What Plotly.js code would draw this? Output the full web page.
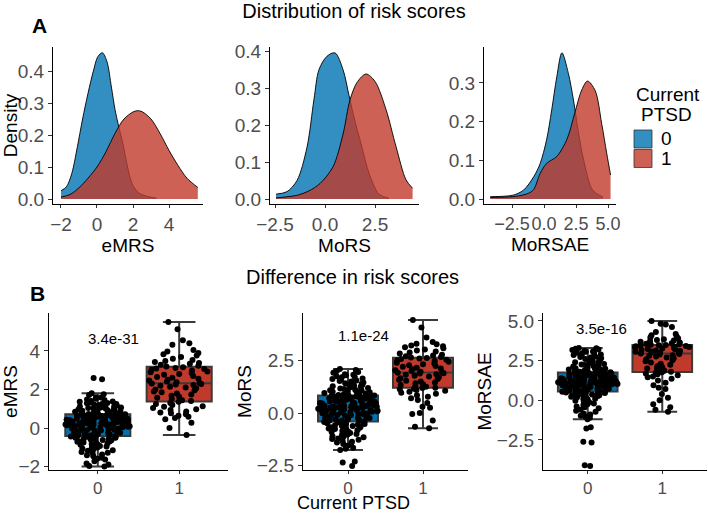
<!DOCTYPE html>
<html>
<head>
<meta charset="utf-8">
<script src="https://cdn.plot.ly/plotly-3.0.1.min.js"></script>
<style>html,body{margin:0;padding:0;background:#fff;}#chart{width:708px;height:513px;}</style>
</head>
<body>
<div id="chart"></div>
<script>
// ---------- data ----------
const scoreNames = ['eMRS', 'MoRS', 'MoRSAE'];
const groupLabels = ['0', '1'];
const pValues = ['3.4e-31', '1.1e-24', '3.5e-16'];

// density curves
const emrsDensX0 = [-2, -1.7, -1.4, -1.1, -0.8, -0.5, -0.2, 0.05, 0.3, 0.55, 0.8, 1.0, 1.2, 1.45, 1.7, 1.95, 2.3, 2.8, 3.3];
const emrsDensY0 = [0.026, 0.038, 0.08, 0.16, 0.25, 0.33, 0.40, 0.445, 0.457, 0.43, 0.35, 0.28, 0.228, 0.17, 0.1, 0.048, 0.02, 0.008, 0.003];
const emrsDensX1 = [-2, -1.5, -1, -0.5, 0, 0.5, 1, 1.5, 2, 2.25, 2.5, 3, 3.5, 4, 4.5, 5, 5.6];
const emrsDensY1 = [0.006, 0.014, 0.035, 0.065, 0.1, 0.148, 0.205, 0.25, 0.272, 0.276, 0.273, 0.25, 0.205, 0.152, 0.105, 0.065, 0.036];

const morsDensX0 = [-2.45, -1.9, -1.4, -0.9, -0.55, -0.3, 0.1, 0.5, 0.9, 1.2, 1.5, 1.8, 2.2, 2.7, 3.2];
const morsDensY0 = [0.013, 0.02, 0.05, 0.14, 0.27, 0.35, 0.386, 0.395, 0.35, 0.28, 0.21, 0.15, 0.07, 0.013, 0.002];
const morsDensX1 = [-2.45, -1.9, -1.4, -0.8, -0.25, 0.4, 0.9, 1.25, 1.6, 2.05, 2.5, 3.05, 3.55, 4.05, 4.38];
const morsDensY1 = [0.003, 0.006, 0.01, 0.022, 0.042, 0.087, 0.175, 0.268, 0.315, 0.338, 0.318, 0.242, 0.142, 0.052, 0.029];

const morsaeDensX0 = [-4.2, -3.2, -2.4, -1.6, -0.8, -0.3, 0.2, 0.6, 1.0, 1.4, 1.9, 2.3, 2.7, 3.1, 3.8, 4.6];
const morsaeDensY0 = [0.006, 0.007, 0.01, 0.023, 0.058, 0.092, 0.153, 0.23, 0.316, 0.378, 0.325, 0.256, 0.17, 0.1, 0.023, 0.005];
const morsaeDensX1 = [-4.2, -3, -2, -1.2, -0.8, -0.3, 0.2, 1.0, 1.8, 2.4, 2.95, 3.4, 4.0, 4.5, 4.9, 5.2];
const morsaeDensY1 = [0.004, 0.005, 0.008, 0.015, 0.025, 0.066, 0.092, 0.11, 0.155, 0.222, 0.282, 0.305, 0.28, 0.196, 0.118, 0.062];

// individual scores
const emrs0 = [-2.0, -1.97, -1.84, -1.72, -1.63, -1.55, -1.46, -1.38, -1.31, -1.24, -1.18, -1.12, -1.06, -1.01, -0.96, -0.91, -0.87, -0.83, -0.79, -0.75, -0.71, -0.67, -0.63, -0.6, -0.57, -0.54, -0.51, -0.48, -0.45, -0.43,
  -0.41, -0.38, -0.35, -0.32, -0.29, -0.26, -0.23, -0.2, -0.17, -0.14, -0.12, -0.09, -0.06, -0.04, -0.01, 0.01, 0.03, 0.05, 0.07, 0.09, 0.11, 0.13, 0.14, 0.15, 0.16, 0.17, 0.18, 0.19, 0.2, 0.21,
  0.23, 0.25, 0.27, 0.29, 0.31, 0.33, 0.34, 0.36, 0.38, 0.4, 0.41, 0.43, 0.45, 0.47, 0.48, 0.5, 0.52, 0.53, 0.55, 0.57, 0.58, 0.6, 0.61, 0.62, 0.63, 0.65, 0.66, 0.67, 0.68, 0.7,
  0.72, 0.74, 0.77, 0.8, 0.83, 0.86, 0.89, 0.92, 0.95, 0.98, 1.01, 1.04, 1.07, 1.1, 1.13, 1.16, 1.19, 1.22, 1.25, 1.28, 1.32, 1.36, 1.4, 1.46, 1.52, 1.6, 1.71, 1.8, 2.53, 2.6,
  -1.9, -1.6, -1.42, -1.28, -1.15, -1.03, -0.94, -0.85, -0.77, -0.69, -0.62, -0.56, -0.5, -0.46, -0.44,
  -0.37, -0.31, -0.25, -0.19, -0.13, -0.08, -0.03, 0.0, 0.04, 0.08, 0.12, 0.145, 0.165, 0.185, 0.205,
  0.24, 0.28, 0.32, 0.35, 0.39, 0.42, 0.46, 0.49, 0.51, 0.54, 0.56, 0.59, 0.64, 0.66, 0.69,
  0.73, 0.79, 0.85, 0.9, 0.96, 1.0, 1.06, 1.12, 1.18, 1.24, 1.3, 1.38, 1.48, 1.58, 1.75];
const emrs1 = [-0.36, 0.0, 0.27, 0.46, 0.52, 0.58, 0.63, 0.71, 0.77, 0.8, 0.86, 0.93, 0.98, 1.04, 1.1, 1.13, 1.19, 1.24, 1.3, 1.36,
  1.4, 1.44, 1.5, 1.57, 1.62, 1.68, 1.74, 1.79, 1.85, 1.9, 1.96, 2.0, 2.06, 2.1, 2.14, 2.19, 2.23, 2.26, 2.29, 2.31,
  2.34, 2.38, 2.42, 2.47, 2.5, 2.56, 2.61, 2.65, 2.7, 2.76, 2.8, 2.85, 2.89, 2.93, 2.98, 3.02, 3.06, 3.09, 3.12, 3.16,
  3.19, 3.23, 3.28, 3.33, 3.37, 3.42, 3.48, 3.53, 3.6, 3.68, 3.76, 3.83, 3.9, 3.97, 4.05, 4.32, 4.4, 4.56, 5.12, 5.5];

const mors0 = [-2.52, -2.35, -2.3, -1.76, -1.65, -1.55, -1.47, -1.4, -1.33, -1.27, -1.21, -1.15, -1.1, -1.05, -1.0, -0.95, -0.9, -0.86, -0.82, -0.78, -0.74, -0.7, -0.66, -0.62, -0.58, -0.55, -0.52, -0.48, -0.45, -0.42,
  -0.39, -0.36, -0.33, -0.3, -0.27, -0.24, -0.21, -0.18, -0.15, -0.12, -0.09, -0.07, -0.04, -0.02, 0.01, 0.03, 0.05, 0.07, 0.09, 0.11, 0.13, 0.15, 0.16, 0.18, 0.19, 0.2, 0.21, 0.22, 0.23, 0.24,
  0.26, 0.28, 0.3, 0.32, 0.34, 0.36, 0.38, 0.4, 0.42, 0.44, 0.46, 0.48, 0.5, 0.52, 0.54, 0.56, 0.58, 0.6, 0.62, 0.64, 0.66, 0.68, 0.7, 0.72, 0.74, 0.76, 0.77, 0.79, 0.8, 0.82,
  0.84, 0.86, 0.88, 0.9, 0.93, 0.96, 0.99, 1.02, 1.05, 1.08, 1.11, 1.15, 1.19, 1.23, 1.27, 1.31, 1.35, 1.4, 1.45, 1.5, 1.55, 1.6, 1.65, 1.7, 1.75, 1.8, 1.85, 1.92, 2.0, 2.1,
  -1.7, -1.5, -1.36, -1.24, -1.12, -1.02, -0.93, -0.84, -0.76, -0.68, -0.6, -0.53, -0.47, -0.44, -0.43,
  -0.35, -0.29, -0.23, -0.17, -0.11, -0.05, -0.01, 0.02, 0.06, 0.1, 0.14, 0.17, 0.2, 0.225, 0.235,
  0.27, 0.31, 0.35, 0.39, 0.43, 0.47, 0.51, 0.55, 0.59, 0.63, 0.67, 0.71, 0.75, 0.78, 0.81,
  0.87, 0.92, 0.97, 1.03, 1.09, 1.17, 1.25, 1.33, 1.42, 1.52, 1.62, 1.72, 1.82, 1.95, 2.05];
const mors1 = [-0.72, -0.65, -0.35, -0.05, 0.0, 0.25, 0.3, 0.48, 0.62, 0.7, 0.78, 0.85, 0.92, 0.97, 1.02, 1.06, 1.1, 1.13, 1.16, 1.19,
  1.21, 1.25, 1.29, 1.33, 1.37, 1.42, 1.46, 1.5, 1.54, 1.58, 1.62, 1.66, 1.7, 1.74, 1.78, 1.82, 1.85, 1.88, 1.9, 1.92,
  1.94, 1.97, 2.0, 2.04, 2.08, 2.12, 2.16, 2.2, 2.24, 2.28, 2.32, 2.36, 2.4, 2.44, 2.48, 2.51, 2.54, 2.57, 2.6, 2.62,
  2.64, 2.67, 2.7, 2.74, 2.78, 2.83, 2.88, 2.93, 2.98, 3.02, 3.08, 3.13, 3.18, 3.22, 3.27, 3.3, 3.38, 3.6, 4.07, 4.43];

const morsae0 = [-4.15, -4.1, -2.66, -2.62, -1.78, -1.7, -1.2, -1.1, -0.98, -0.85, -0.72, -0.6, -0.5, -0.4, -0.3, -0.2, -0.12, -0.04, 0.04, 0.1, 0.16, 0.22, 0.27, 0.32, 0.36, 0.4, 0.44, 0.48, 0.51, 0.54,
  0.56, 0.59, 0.62, 0.65, 0.68, 0.71, 0.74, 0.77, 0.8, 0.83, 0.86, 0.88, 0.9, 0.93, 0.95, 0.97, 0.99, 1.01, 1.03, 1.05, 1.07, 1.08, 1.09, 1.1, 1.11, 1.12, 1.13, 1.14, 1.14, 1.15,
  1.16, 1.18, 1.2, 1.22, 1.24, 1.26, 1.28, 1.3, 1.32, 1.34, 1.36, 1.38, 1.4, 1.42, 1.44, 1.46, 1.48, 1.5, 1.52, 1.54, 1.56, 1.58, 1.6, 1.62, 1.64, 1.66, 1.68, 1.7, 1.72, 1.74,
  1.76, 1.79, 1.82, 1.86, 1.9, 1.94, 1.98, 2.02, 2.07, 2.12, 2.17, 2.22, 2.28, 2.34, 2.4, 2.46, 2.52, 2.58, 2.64, 2.7, 2.76, 2.82, 2.88, 2.94, 3.0, 3.05, 3.1, 3.17, 3.25, 3.3,
  -1.05, -0.9, -0.66, -0.45, -0.25, -0.08, 0.07, 0.19, 0.3, 0.38, 0.42, 0.46, 0.5, 0.52, 0.53,
  0.6, 0.66, 0.72, 0.78, 0.84, 0.89, 0.94, 0.98, 1.02, 1.06, 1.09, 1.11, 1.12, 1.13, 1.145,
  1.19, 1.23, 1.27, 1.31, 1.35, 1.39, 1.43, 1.47, 1.51, 1.55, 1.59, 1.63, 1.67, 1.71, 1.73,
  1.8, 1.88, 1.96, 2.05, 2.14, 2.25, 2.36, 2.48, 2.6, 2.72, 2.85, 2.97, 3.08, 3.2, 3.28];
const morsae1 = [-0.72, -0.6, -0.45, -0.25, 0.0, 0.15, 0.4, 0.7, 0.78, 0.95, 1.1, 1.25, 1.35, 1.45, 1.5, 1.58, 1.64, 1.69, 1.73, 1.77,
  1.8, 1.86, 1.93, 2.0, 2.08, 2.15, 2.23, 2.3, 2.38, 2.45, 2.52, 2.58, 2.64, 2.7, 2.75, 2.8, 2.84, 2.88, 2.91, 2.94,
  2.96, 2.99, 3.02, 3.05, 3.08, 3.11, 3.14, 3.17, 3.2, 3.23, 3.26, 3.29, 3.32, 3.35, 3.37, 3.4, 3.42, 3.44, 3.46, 3.48,
  3.5, 3.53, 3.56, 3.6, 3.64, 3.68, 3.72, 3.76, 3.8, 3.85, 3.9, 3.96, 4.02, 4.1, 4.18, 4.3, 4.62, 4.78, 4.82, 5.0];

// ---------- styling / layout ----------
const W = 708, H = 513;
const FONT = 'Liberation Sans, Arial, Helvetica, sans-serif';
const BLUE = '#0072B2', RED = '#C0392B';
const BLUE_A = 'rgba(0,114,178,0.8)', RED_A = 'rgba(192,57,43,0.8)';
const dx = (a, b) => [a / W, b / W];
const dy = (top, bottom) => [1 - bottom / H, 1 - top / H];
const px = x => x / W, py = y => 1 - y / H;

const densSets = [
  [emrsDensX0, emrsDensY0, emrsDensX1, emrsDensY1],
  [morsDensX0, morsDensY0, morsDensX1, morsDensY1],
  [morsaeDensX0, morsaeDensY0, morsaeDensX1, morsaeDensY1]
];
const boxSets = [[emrs0, emrs1], [mors0, mors1], [morsae0, morsae1]];

const traces = [];
densSets.forEach((s, i) => {
  const ax = i === 0 ? '' : String(i + 1);
  traces.push({x: s[0], y: s[1], type: 'scatter', mode: 'lines', fill: 'tozeroy', fillcolor: BLUE_A,
    line: {color: '#000', width: 0.9, shape: 'spline', smoothing: 0.9}, xaxis: 'x' + ax, yaxis: 'y' + ax,
    name: groupLabels[0], hoverinfo: 'skip'});
  traces.push({x: s[2], y: s[3], type: 'scatter', mode: 'lines', fill: 'tozeroy', fillcolor: RED_A,
    line: {color: '#000', width: 0.9, shape: 'spline', smoothing: 0.9}, xaxis: 'x' + ax, yaxis: 'y' + ax,
    name: groupLabels[1], hoverinfo: 'skip'});
});
boxSets.forEach((s, i) => {
  const ax = String(i + 4);
  [0, 1].forEach(g => {
    traces.push({type: 'box', y: s[g], x0: g, name: groupLabels[g], width: 0.8,
      boxpoints: 'all', jitter: 1, pointpos: 0,
      fillcolor: g === 0 ? BLUE : RED, line: {color: '#3a3a3a', width: 2},
      marker: {color: '#000', size: 6}, xaxis: 'x' + ax, yaxis: 'y' + ax, hoverinfo: 'skip'});
  });
});

const titleFont = {family: FONT, size: 19, color: '#000'};
function axis(domain, range, tickvals, fmt, title, standoff, anchor, tsize, tlen) {
  const a = {domain: domain, range: range, autorange: false, type: 'linear', tickvals: tickvals, tickformat: fmt,
    showline: true, linecolor: '#000', linewidth: 1, ticks: 'outside', ticklen: tlen || 4, tickwidth: 1, tickcolor: '#333',
    tickfont: {family: FONT, size: tsize || 19, color: '#4D4D4D'}, tickangle: 0,
    showgrid: false, zeroline: false, anchor: anchor, fixedrange: true};
  if (title) a.title = {text: title, font: titleFont, standoff: standoff};
  return a;
}

const top1 = dy(47, 204), bot = dy(313, 470);
const ann = (text, x, y, size, extra) => Object.assign({text: text, xref: 'paper', yref: 'paper', x: px(x), y: py(y),
  xanchor: 'center', yanchor: 'middle', showarrow: false, font: {family: FONT, size: size, color: '#000'}}, extra || {});

const layout = {
  width: W, height: H, margin: {l: 0, r: 0, t: 0, b: 0}, paper_bgcolor: '#fff', plot_bgcolor: 'rgba(0,0,0,0)',
  showlegend: false, font: {family: FONT, color: '#000'}, boxmode: 'overlay',
  title: {text: 'Distribution of risk scores', x: 354 / W, xanchor: 'center', y: 1 - 11 / H, yanchor: 'middle',
    font: {family: FONT, size: 20, color: '#000'}},
  xaxis: axis(dx(53, 203), [-2.444, 5.889], [-2, 0, 2, 4], 'd', scoreNames[0], 1, 'y', 19, 3),
  yaxis: axis(top1, [-0.0156, 0.475], [0, 0.1, 0.2, 0.3, 0.4], '.1f', 'Density', 2, 'x'),
  xaxis2: axis(dx(270, 419), [-2.75, 4.7], [-2.5, 0, 2.5], '.1f', scoreNames[1], 1, 'y2', 19, 3),
  yaxis2: axis(top1, [-0.0135, 0.411], [0, 0.1, 0.2, 0.3, 0.4], '.1f', null, 0, 'x2'),
  xaxis3: axis(dx(484, 616), [-4.69, 5.625], [-2.5, 0, 2.5, 5], '.1f', scoreNames[2], 1, 'y3', 18, 3),
  yaxis3: axis(top1, [-0.0129, 0.393], [0, 0.1, 0.2, 0.3], '.1f', null, 0, 'x3'),
  xaxis4: axis(dx(49, 228), [-0.6, 1.6], [0, 1], 'd', null, 0, 'y4', 17, 3),
  yaxis4: axis(bot, [-2.18, 5.97], [-2, 0, 2, 4], 'd', scoreNames[0], 10, 'x4'),
  xaxis5: axis(dx(303, 468), [-0.6, 1.6], [0, 1], 'd', null, 0, 'y5', 17, 3),
  yaxis5: axis(bot, [-2.71, 4.762], [-2.5, 0, 2.5], '.1f', scoreNames[1], 0, 'x5'),
  xaxis6: axis(dx(543, 707), [-0.6, 1.6], [0, 1], 'd', null, 0, 'y6', 17, 3),
  yaxis6: axis(bot, [-4.4, 5.5], [-2.5, 0, 2.5, 5], '.1f', scoreNames[2], 0, 'x6'),
  annotations: [
    ann('<b>A</b>', 39.5, 25, 21),
    ann('<b>B</b>', 37.5, 293, 21),
    ann('Difference in risk scores', 352, 277, 20),
    ann('Current PTSD', 353, 502.5, 18, {borderpad: 0}),
    {text: pValues[0], xref: 'x4', yref: 'y4', x: 0.19, y: 4.67, showarrow: false, font: {family: FONT, size: 15, color: '#000'}},
    {text: pValues[1], xref: 'x5', yref: 'y5', x: 0.2, y: 3.71, showarrow: false, font: {family: FONT, size: 15, color: '#000'}},
    {text: pValues[2], xref: 'x6', yref: 'y6', x: 0.19, y: 4.5, showarrow: false, font: {family: FONT, size: 15, color: '#000'}},
    ann('Current', 634, 95, 19, {xanchor: 'left'}),
    ann('PTSD', 639, 114, 19, {xanchor: 'left'}),
    ann(groupLabels[0], 659, 139, 19, {xanchor: 'left'}),
    ann(groupLabels[1], 659, 158.5, 19, {xanchor: 'left'})
  ],
  shapes: [
    {type: 'rect', xref: 'paper', yref: 'paper', x0: px(634), x1: px(652), y0: py(148), y1: py(130), fillcolor: BLUE_A, line: {color: '#333', width: 0.8}},
    {type: 'rect', xref: 'paper', yref: 'paper', x0: px(634), x1: px(652), y0: py(167.5), y1: py(149.5), fillcolor: RED_A, line: {color: '#333', width: 0.8}}
  ]
};

Plotly.newPlot('chart', traces, layout, {staticPlot: true, displayModeBar: false});
</script>
</body>
</html>
